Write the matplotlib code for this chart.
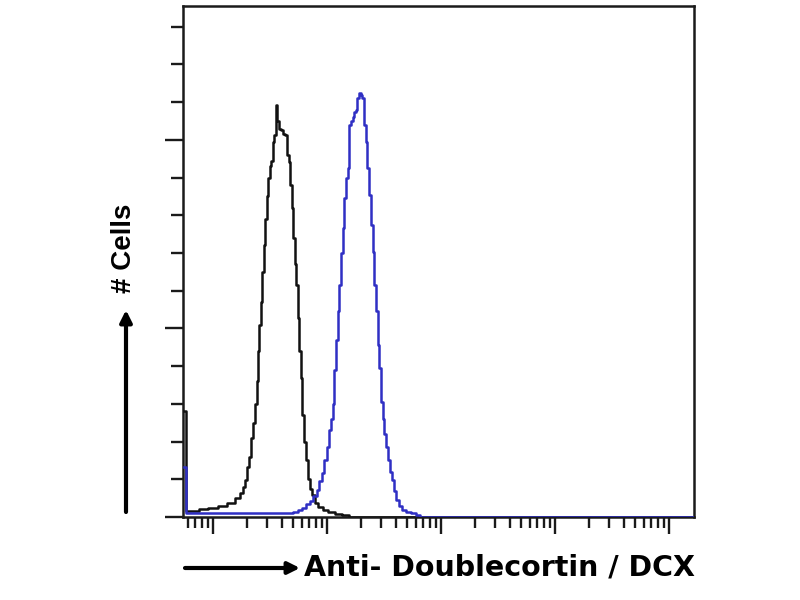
import matplotlib
matplotlib.use("Agg")
import matplotlib.pyplot as plt
from matplotlib.ticker import LogLocator, MultipleLocator, NullFormatter

# Isotype / control histogram (black)
ctrl_x = [5.57, 5.92, 6.95, 8.17, 10.0, 12.0, 14.7, 16.6, 18.0, 18.7, 19.5, 20.3, 21.1,
          22.0, 22.9, 23.9, 24.5, 25.1, 25.8, 26.6, 27.5, 28.3, 29.2, 30.1, 31.0, 31.9,
          32.9, 33.9, 35.0, 36.2, 37.4, 38.7, 40.3, 42.0, 43.7, 45.5, 46.9, 48.3, 49.8,
          51.4, 52.9, 54.6, 56.2, 58.0, 59.7, 61.5, 64.1, 66.8, 69.5, 72.4, 75.4, 80.1,
          86.9, 96.0, 108, 125, 144, 166, 165000]
ctrl_y = [2.8, 0.15, 0.17, 0.2, 0.24, 0.29, 0.37, 0.5, 0.64, 0.8, 0.98, 1.33, 1.6,
          2.1, 2.5, 3.0, 3.6, 4.4, 5.1, 5.7, 6.5, 7.2, 7.9, 8.5, 9.0, 9.3,
          9.45, 9.95, 10.13, 10.93, 10.5, 10.3, 10.25, 10.15, 10.13, 9.6, 9.42, 8.8, 8.2,
          7.4, 6.7, 6.15, 5.27, 4.4, 3.69, 2.7, 2.0, 1.5, 1.0, 0.75, 0.58, 0.38,
          0.26, 0.18, 0.13, 0.09, 0.05, 0.0, 0.0]

# Anti-Doublecortin histogram (blue)
dcx_x = [5.57, 5.92, 21.1, 47.3, 53.5, 58.0, 62.8, 68.1, 73.8, 78.5, 83.4, 87.7, 92.2,
         97.0, 102, 106, 110, 114, 117, 122, 126, 130, 135, 139, 144, 149, 154, 159,
         165, 170, 176, 182, 188, 195, 201, 208, 215, 223, 230, 238, 247, 255, 264,
         273, 282, 292, 302, 312, 323, 334, 346, 361, 379, 395, 411, 437, 464, 514,
         568, 628, 681, 165000]
dcx_y = [1.33, 0.1, 0.1, 0.1, 0.13, 0.18, 0.25, 0.35, 0.42, 0.55, 0.72, 0.95, 1.17,
         1.5, 1.86, 2.3, 2.6, 3.0, 3.9, 4.7, 5.45, 6.15, 7.0, 7.66, 8.45, 8.98, 9.25, 10.4,
         10.5, 10.6, 10.75, 10.8, 11.1, 11.24, 11.2, 11.1, 10.4, 9.95, 9.25, 8.54, 7.75, 7.04, 6.15,
         5.45, 4.56, 3.94, 3.06, 2.6, 2.2, 1.86, 1.5, 1.2, 0.98, 0.7, 0.45, 0.3, 0.19, 0.12,
         0.1, 0.05, 0.0, 0.0]

x_label = "Anti- Doublecortin / DCX"
y_label = "# Cells"

fig = plt.figure(figsize=(8, 6), dpi=100)
ax = fig.add_axes([183 / 800, 1 - 517 / 600, (694 - 183) / 800, (517 - 6) / 600])

ax.plot(ctrl_x, ctrl_y, drawstyle="steps-mid", color="#111111", lw=1.8, zorder=3)
ax.plot(dcx_x, dcx_y, drawstyle="steps-mid", color="#2f2fc4", lw=1.8, zorder=4)

ax.set_xscale("log")
ax.set_xlim(5.46, 165600)
ax.set_ylim(0, 13.55)

ax.xaxis.set_major_locator(LogLocator(base=10, numticks=20))
ax.xaxis.set_minor_locator(LogLocator(base=10, subs=range(2, 10), numticks=100))
ax.xaxis.set_major_formatter(NullFormatter())
ax.xaxis.set_minor_formatter(NullFormatter())
ax.yaxis.set_major_locator(MultipleLocator(5))
ax.yaxis.set_minor_locator(MultipleLocator(1))
ax.yaxis.set_major_formatter(NullFormatter())

ax.tick_params(axis="x", which="major", direction="out", length=12, width=1.7, color="#1a1a1a")
ax.tick_params(axis="x", which="minor", direction="out", length=8, width=1.7, color="#1a1a1a")
ax.tick_params(axis="y", which="major", direction="out", length=13, width=1.7, color="#1a1a1a")
ax.tick_params(axis="y", which="minor", direction="out", length=8.5, width=1.7, color="#1a1a1a")
ax.tick_params(top=False, right=False, labelbottom=False, labelleft=False)

for s in ax.spines.values():
    s.set_linewidth(1.8)
    s.set_color("#1a1a1a")

# Axis labels with arrows
fig.text(124 / 800, 1 - 248 / 600, y_label, rotation=90, ha="center", va="center",
         fontsize=20, fontweight="heavy", family=["Liberation Sans", "DejaVu Sans"])
fig.add_artist(matplotlib.patches.FancyArrowPatch(
    (126 / 800, 1 - 512 / 600), (126 / 800, 1 - 310 / 600), transform=fig.transFigure,
    arrowstyle="-|>,head_length=7,head_width=3.5", lw=3, color="black",
    shrinkA=0, shrinkB=0))

fig.text(304 / 800, 1 - 568 / 600, x_label, ha="left", va="center",
         fontsize=20.5, fontweight="bold", family=["DejaVu Sans"])
fig.add_artist(matplotlib.patches.FancyArrowPatch(
    (185 / 800, 1 - 568 / 600), (300 / 800, 1 - 568 / 600), transform=fig.transFigure,
    arrowstyle="-|>,head_length=7,head_width=3.5", lw=3, color="black",
    shrinkA=0, shrinkB=0))

fig.savefig("out.png", dpi=100, facecolor="white")
